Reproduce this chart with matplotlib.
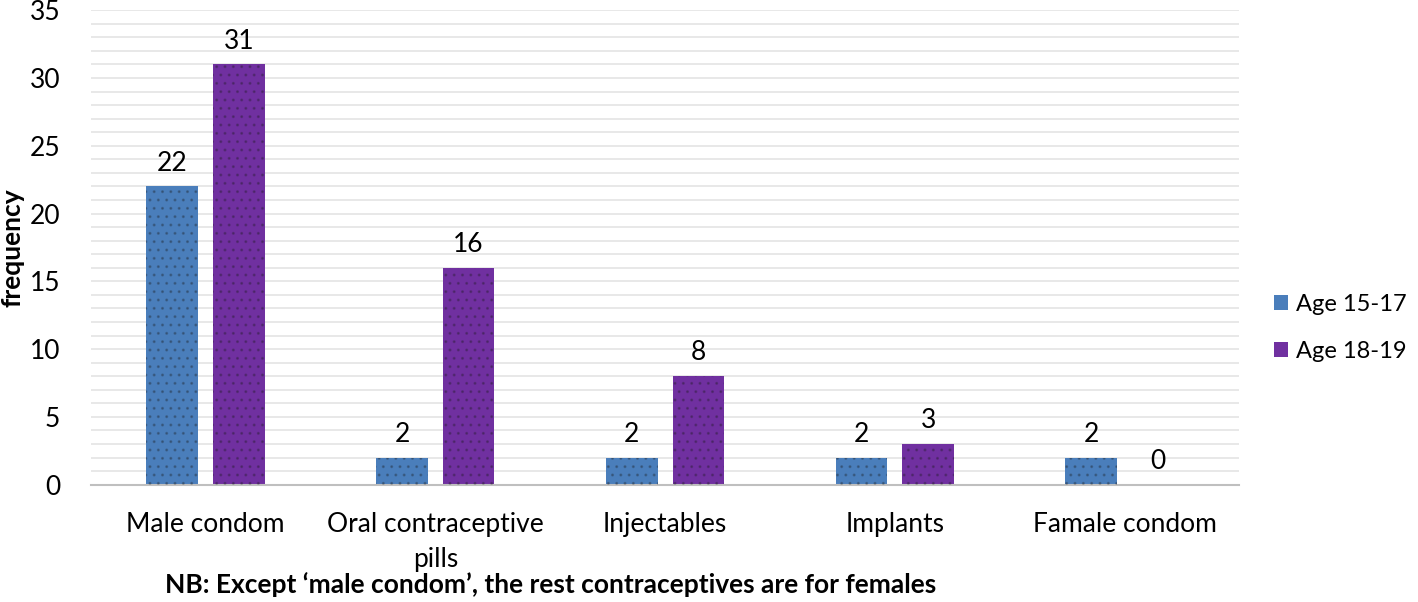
import matplotlib.pyplot as plt
import numpy as np

plt.rcParams['font.family'] = ['Lato', 'DejaVu Sans']

categories = ["Male condom", "Oral contraceptive\npills", "Injectables", "Implants", "Famale condom"]
age_15_17 = [22, 2, 2, 2, 2]
age_18_19 = [31, 16, 8, 3, 0]
series_names = ["Age 15-17", "Age 18-19"]
colors = ["#4A7EBB", "#7030A0"]

fig = plt.figure(figsize=(14.18, 6.02), dpi=100)
ax = fig.add_axes([0.064, 0.195, 0.81, 0.788])

x = np.arange(len(categories))
width = 0.225
offsets = [-0.145, 0.145]

for vals, name, col, off in zip([age_15_17, age_18_19], series_names, colors, offsets):
    ax.bar(x + off, vals, width, color=col, label=name, zorder=2)
    ax.bar(x + off, vals, width, fill=False, hatch='..', edgecolor=(0.1, 0.1, 0.1, 0.25),
           linewidth=0, zorder=3)
    for xi, v in zip(x + off, vals):
        ax.text(xi, v + 0.8, str(v), ha='center', va='bottom', fontsize=19, color='black')

ax.set_xlim(-0.5, len(categories) - 0.5)
ax.set_ylim(0, 35)
ax.set_yticks(range(0, 36, 5))
ax.set_yticks(range(0, 36), minor=True)
ax.yaxis.grid(True, which='both', color='#E4E4E4', linewidth=1.2, zorder=0)
ax.set_axisbelow(True)
ax.tick_params(axis='y', which='both', length=0, labelsize=19, pad=22)
ax.tick_params(axis='x', length=0, labelsize=19, pad=20)
ax.set_xticks(x)
ax.set_xticklabels(categories, linespacing=1.5)

for s in ['top', 'right', 'left']:
    ax.spines[s].set_visible(False)
ax.spines['bottom'].set_color('#BFBFBF')
ax.spines['bottom'].set_linewidth(1.5)

ax.set_ylabel("frequency", fontsize=19, fontweight='bold')
ax.yaxis.set_label_coords(-0.058, 0.5)

ax.legend(loc='center left', bbox_to_anchor=(1.03, 0.33), borderaxespad=0, borderpad=0,
          frameon=False, fontsize=17,
          handlelength=0.6, handleheight=0.6, handletextpad=0.35, labelspacing=1.1)

fig.text(0.388, 0.008, "NB: Except \u2018male condom\u2019, the rest contraceptives are for females",
         ha='center', va='bottom', fontsize=19, fontweight='bold')

fig.savefig("out.png", dpi=100, facecolor='white')
